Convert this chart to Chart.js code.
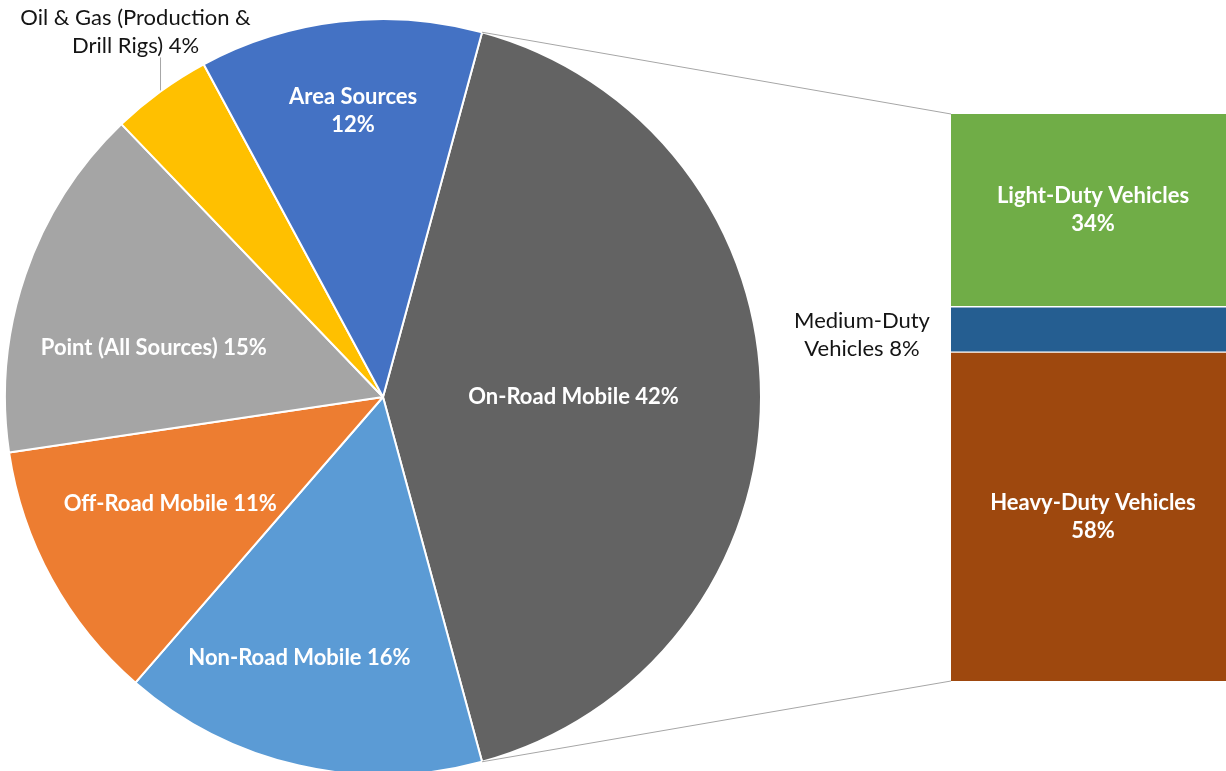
<!DOCTYPE html>
<html>
<head>
<meta charset="utf-8">
<script src="https://cdn.jsdelivr.net/npm/chart.js@4.4.1/dist/chart.umd.min.js"></script>
<style>
	html, body { margin: 0; padding: 0; background: #fff; overflow: hidden; }
	#wrap { position: relative; width: 1226px; height: 771px; overflow: hidden; }
	#pieChart { position: absolute; left: 0; top: 0; }
	#barChart { position: absolute; left: 770px; top: 0; }
</style>
</head>
<body>
<div id="wrap">
	<canvas id="pieChart" width="1226" height="771"></canvas>
	<canvas id="barChart" width="466" height="771"></canvas>
</div>
<script>
// Emission sources (pie)
const pieLabels = [
	"On-Road Mobile",
	"Non-Road Mobile",
	"Off-Road Mobile",
	"Point (All Sources)",
	"Oil & Gas (Production & Drill Rigs)",
	"Area Sources",
];
const pieValues = [41.6, 15.6, 11.3, 15.2, 4.3, 12.1];
const pieColors = ["#636363", "#5B9BD5", "#ED7D31", "#A5A5A5", "#FFC000", "#4472C4"];

// On-Road breakdown (stacked bar, bottom to top)
const barLabels = ["Heavy-Duty Vehicles", "Medium-Duty Vehicles", "Light-Duty Vehicles"];
const barValues = [58, 8, 34];
const barColors = ["#9E480E", "#255E91", "#70AD47"];

// label placement (polar nudges for pie, wrap widths)
const pieLabelSpots = [
	{ r: 0.504, turn: 0, wrap: 330 },
	{ r: 0.725, turn: 4.9, wrap: 330 },
	{ r: 0.63, turn: 2.1, wrap: 330 },
	{ r: 0.62, turn: -6.9, wrap: 330 },
	{ outside: true, wrap: 245 },
	{ r: 0.761, turn: 0.6, wrap: 150 },
];
const barLabelSpots = [
	{ wrap: 230 },
	{ outside: true, dx: -89, dy: 5, wrap: 150 },
	{ wrap: 230 },
];

const WHITE_FONT = "bold 22px Lato";
const DARK_FONT = "22px Lato";
const DARK_TEXT = "#141414";
const LINE_H = 28;
const LINE_GRAY = "#A6A6A6";

function wrapText(ctx, text, maxWidth) {
	const words = text.split(" ");
	const lines = [];
	let line = "";
	words.forEach((w) => {
		const test = line ? line + " " + w : w;
		if (line && ctx.measureText(test).width > maxWidth) {
			lines.push(line);
			line = w;
		} else {
			line = test;
		}
	});
	if (line) lines.push(line);
	return lines;
}

function drawLines(ctx, lines, x, y) {
	const top = y - ((lines.length - 1) * LINE_H) / 2;
	lines.forEach((l, i) => ctx.fillText(l, x, top + i * LINE_H));
}

function pct(values, i) {
	const total = values.reduce((s, v) => s + v, 0);
	return Math.round((values[i] / total) * 100);
}

const barLabelPlugin = {
	id: "barLabels",
	afterDatasetsDraw(chart) {
		const ctx = chart.ctx;
		ctx.save();
		ctx.textAlign = "center";
		ctx.textBaseline = "middle";
		chart.data.datasets.forEach((ds, i) => {
			const el = chart.getDatasetMeta(i).data[0];
			const spot = barLabelSpots[i];
			const cy = (el.y + el.base) / 2;
			const text = `${ds.label} ${pct(barValues, i)}%`;
			if (spot.outside) {
				ctx.font = DARK_FONT;
				ctx.fillStyle = DARK_TEXT;
				const left = el.x - el.width / 2;
				drawLines(ctx, wrapText(ctx, text, spot.wrap), left + spot.dx, cy + spot.dy);
			} else {
				ctx.font = WHITE_FONT;
				ctx.fillStyle = "#FFFFFF";
				drawLines(ctx, wrapText(ctx, text, spot.wrap), el.x, cy);
			}
		});
		ctx.restore();
	},
};

const barChart = new Chart(document.getElementById("barChart"), {
	type: "bar",
	data: {
		labels: ["On-Road Mobile"],
		datasets: barLabels.map((lab, i) => ({
			label: lab,
			data: [barValues[i]],
			backgroundColor: barColors[i],
			borderColor: "#FFFFFF",
			borderWidth: i === 0 ? { top: 1 } : i === barLabels.length - 1 ? { bottom: 1 } : { top: 1, bottom: 1 },
			borderSkipped: false,
			barPercentage: 1,
			categoryPercentage: 1,
		})),
	},
	options: {
		responsive: false,
		animation: false,
		events: [],
		layout: { padding: { left: 181, right: 1, top: 114, bottom: 90 } },
		scales: {
			x: { stacked: true, display: false },
			y: { stacked: true, display: false, min: 0, max: 100 },
		},
		plugins: { legend: { display: false }, tooltip: { enabled: false } },
	},
	plugins: [barLabelPlugin],
});

const pieLabelPlugin = {
	id: "pieLabels",
	afterDatasetsDraw(chart) {
		const ctx = chart.ctx;
		const arcs = chart.getDatasetMeta(0).data;
		ctx.save();

		// connector lines to the bar
		const first = arcs[0];
		const barCanvas = barChart.canvas;
		const topEl = barChart.getDatasetMeta(barLabels.length - 1).data[0];
		const botEl = barChart.getDatasetMeta(0).data[0];
		const barLeft = topEl.x - topEl.width / 2 + barCanvas.offsetLeft;
		const barTop = topEl.y + barCanvas.offsetTop;
		const barBottom = botEl.base + barCanvas.offsetTop;
		const R = first.outerRadius;
		ctx.strokeStyle = LINE_GRAY;
		ctx.lineWidth = 1;
		ctx.beginPath();
		ctx.moveTo(first.x + R * Math.cos(first.startAngle), first.y + R * Math.sin(first.startAngle));
		ctx.lineTo(barLeft, barTop);
		ctx.moveTo(first.x + R * Math.cos(first.endAngle), first.y + R * Math.sin(first.endAngle));
		ctx.lineTo(barLeft, barBottom);
		ctx.stroke();

		ctx.textAlign = "center";
		ctx.textBaseline = "middle";
		arcs.forEach((arc, i) => {
			const spot = pieLabelSpots[i];
			const mid = (arc.startAngle + arc.endAngle) / 2;
			const text = `${pieLabels[i]} ${pct(pieValues, i)}%`;
			if (spot.outside) {
				const ex = arc.x + R * Math.cos(mid);
				const ey = arc.y + R * Math.sin(mid);
				ctx.beginPath();
				ctx.moveTo(ex, ey - 1);
				ctx.lineTo(ex, ey - 34);
				ctx.stroke();
				ctx.font = DARK_FONT;
				ctx.fillStyle = DARK_TEXT;
				const lines = wrapText(ctx, text, spot.wrap);
				drawLines(ctx, lines, ex - 25, ey - 45 - ((lines.length - 1) * LINE_H) / 2);
			} else {
				const a = mid + (spot.turn * Math.PI) / 180;
				const r = R * spot.r;
				ctx.font = WHITE_FONT;
				ctx.fillStyle = "#FFFFFF";
				drawLines(ctx, wrapText(ctx, text, spot.wrap), arc.x + r * Math.cos(a), arc.y + r * Math.sin(a));
			}
		});
		ctx.restore();
	},
};

const pieTotal = pieValues.reduce((s, v) => s + v, 0);

new Chart(document.getElementById("pieChart"), {
	type: "pie",
	data: {
		labels: pieLabels,
		datasets: [
			{
				data: pieValues,
				backgroundColor: pieColors,
				borderColor: "#FFFFFF",
				borderWidth: 2,
			},
		],
	},
	options: {
		responsive: false,
		animation: false,
		events: [],
		radius: 378,
		rotation: 90 - (pieValues[0] / pieTotal) * 180,
		layout: { padding: { left: 0, right: 460, top: 23, bottom: 0 } },
		plugins: { legend: { display: false }, tooltip: { enabled: false } },
	},
	plugins: [pieLabelPlugin],
});
</script>
</body>
</html>
